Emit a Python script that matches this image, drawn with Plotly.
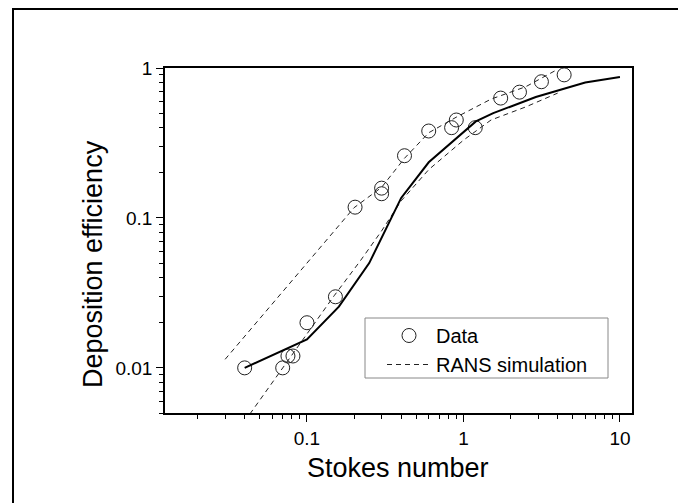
import plotly.graph_objects as go

# Measured data (Stokes number vs deposition efficiency)
data_x = [0.04, 0.07, 0.0756, 0.0814, 0.1, 0.152, 0.203, 0.30, 0.30, 0.42, 0.60, 0.84, 0.90, 1.19, 1.73, 2.28, 3.15, 4.4]
data_y = [0.010, 0.010, 0.012, 0.012, 0.020, 0.0298, 0.118, 0.158, 0.145, 0.26, 0.38, 0.40, 0.45, 0.40, 0.63, 0.69, 0.81, 0.90]

# Solid curve
solid_x = [0.04, 0.1, 0.16, 0.2, 0.25, 0.4, 0.6, 1.2, 1.55, 2.9, 6.0, 10.0]
solid_y = [0.010, 0.0155, 0.0256, 0.036, 0.050, 0.136, 0.235, 0.44, 0.50, 0.64, 0.80, 0.87]

# RANS simulation, upper dashed curve
rans_up_x = [0.03, 0.2, 0.3, 0.42, 0.6, 0.9, 1.5, 2.5, 4.0]
rans_up_y = [0.0114, 0.117, 0.16, 0.25, 0.37, 0.47, 0.62, 0.75, 0.98]

# RANS simulation, lower dashed curve
rans_lo_x = [0.04, 0.07, 0.1, 0.15, 0.22, 0.3, 0.4, 0.6, 1.0, 1.5, 2.5, 4.0]
rans_lo_y = [0.0044, 0.010, 0.017, 0.0305, 0.052, 0.082, 0.13, 0.21, 0.33, 0.45, 0.55, 0.68]

x_tickvals = [0.1, 1, 10]
x_ticktext = ["0.1", "1", "10"]
y_tickvals = [0.01, 0.1, 1]
y_ticktext = ["0.01", "0.1", "1"]

FONT = "Liberation Sans, Arial, sans-serif"

fig = go.Figure()
fig.add_trace(go.Scatter(
    x=data_x, y=data_y, mode="markers", name="Data",
    marker=dict(symbol="circle-open", size=14, color="#222222", line=dict(width=1, color="#222222")),
    cliponaxis=False,
))
fig.add_trace(go.Scatter(
    x=rans_up_x, y=rans_up_y, mode="lines", name="RANS simulation",
    line=dict(color="#222222", width=1, dash="5px,4px"),
))
fig.add_trace(go.Scatter(
    x=rans_lo_x, y=rans_lo_y, mode="lines", name="RANS simulation", showlegend=False,
    line=dict(color="#222222", width=1, dash="5px,4px"),
))
fig.add_trace(go.Scatter(
    x=solid_x, y=solid_y, mode="lines", name="Model", showlegend=False,
    line=dict(color="black", width=2),
))

L, R, T, B = 165, 46, 68, 90
W, H = 678, 503
pw, ph = W - L - R, H - T - B

def px_x(p):
    return (p - L) / pw

def px_y(p):
    return (T + ph - p) / ph

axis_common = dict(
    type="log", showgrid=False, zeroline=False,
    showline=True, linecolor="black", linewidth=1.5, mirror=True,
    ticks="outside", ticklen=7, tickwidth=1, tickcolor="black",
    tickfont=dict(family=FONT, size=19, color="black"),
    minor=dict(ticks="outside", ticklen=4, tickwidth=1, tickcolor="black", dtick="D1", showgrid=False),
)

fig.update_xaxes(range=[-1.907, 1.077], tickvals=x_tickvals, ticktext=x_ticktext, **axis_common)
fig.update_yaxes(range=[-2.301, 0.0], tickvals=y_tickvals, ticktext=y_ticktext, **axis_common)

fig.add_annotation(text="Stokes number", xref="paper", yref="paper",
                   x=px_x(398), y=px_y(468), xanchor="center", yanchor="middle",
                   showarrow=False, font=dict(family=FONT, size=27, color="black"))
fig.add_annotation(text="Deposition efficiency", xref="paper", yref="paper",
                   x=px_x(93), y=px_y(264), xanchor="center", yanchor="middle",
                   textangle=-90, showarrow=False, font=dict(family=FONT, size=27, color="black"))

# outer frame of the figure
fig.add_shape(type="rect", xref="paper", yref="paper",
              x0=px_x(13), x1=1.3, y0=-0.5, y1=px_y(9),
              line=dict(color="black", width=2), fillcolor="rgba(0,0,0,0)", layer="above")

# legend box
fig.add_shape(type="rect", xref="paper", yref="paper",
              x0=px_x(365), x1=px_x(608), y0=px_y(378), y1=px_y(318),
              line=dict(color="#888888", width=1), fillcolor="white", layer="below")

fig.update_layout(
    width=W, height=H,
    margin=dict(l=L, r=R, t=T, b=B),
    paper_bgcolor="white", plot_bgcolor="white",
    font=dict(family=FONT, color="black"),
    legend=dict(
        x=px_x(382), y=px_y(316), xanchor="left", yanchor="top",
        borderwidth=0, bgcolor="rgba(0,0,0,0)",
        font=dict(family=FONT, size=20, color="black"),
        tracegroupgap=0, itemwidth=44,
    ),
)

fig.write_html("out.html")
